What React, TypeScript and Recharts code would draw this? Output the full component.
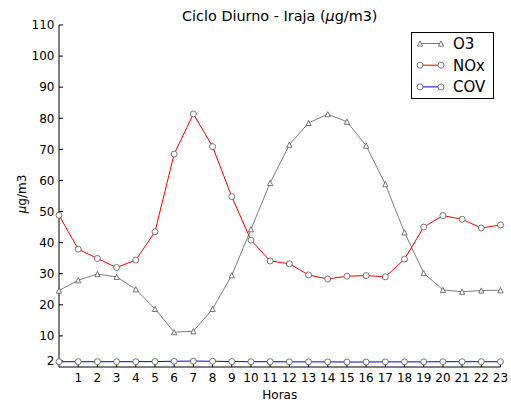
import React from 'react';
import { LineChart, Line, XAxis, YAxis } from 'recharts';

const hours = [0, 1, 2, 3, 4, 5, 6, 7, 8, 9, 10, 11, 12, 13, 14, 15, 16, 17, 18, 19, 20, 21, 22, 23];
const o3 = [24.6, 27.9, 29.9, 29.0, 25.0, 18.7, 11.2, 11.5, 18.7, 29.5, 44.3, 59.2, 71.5, 78.5, 81.3, 78.9, 71.2, 58.8, 43.3, 30.2, 24.8, 24.2, 24.6, 24.7];
const nox = [48.8, 37.9, 34.9, 32.0, 34.4, 43.5, 68.5, 81.4, 70.9, 54.8, 40.8, 34.1, 33.2, 29.6, 28.3, 29.2, 29.4, 29.0, 34.7, 45.0, 48.7, 47.5, 44.7, 45.7];
const cov = [1.7, 1.7, 1.7, 1.7, 1.7, 1.75, 1.85, 1.9, 1.85, 1.75, 1.7, 1.7, 1.65, 1.65, 1.65, 1.6, 1.6, 1.65, 1.65, 1.65, 1.7, 1.7, 1.7, 1.7];
const xTicks = [1, 2, 3, 4, 5, 6, 7, 8, 9, 10, 11, 12, 13, 14, 15, 16, 17, 18, 19, 20, 21, 22, 23];
const yTicks = [2, 10, 20, 30, 40, 50, 60, 70, 80, 90, 100, 110];
const seriesNames = ['O3', 'NOx', 'COV'];
const seriesColors = ['#808080', '#ff0000', '#0000ff'];

const data = hours.map((h, i) => ({ h, O3: o3[i], NOx: nox[i], COV: cov[i] }));

const FONT = 'DejaVu Sans, sans-serif';
const EDGE = '#555555';

const Tri = (props: any) => {
  const { cx, cy, index } = props;
  if (cx == null || cy == null) return <g key={`t${index}`} />;
  const s = 2.6;
  return (
    <polygon
      key={`t${index}`}
      points={`${cx},${cy - s} ${cx - s},${cy + s} ${cx + s},${cy + s}`}
      fill="#ffffff"
      stroke={EDGE}
      strokeWidth={0.8}
    />
  );
};

const Circ = (props: any) => {
  const { cx, cy, index } = props;
  if (cx == null || cy == null) return <g key={`c${index}`} />;
  return <circle key={`c${index}`} cx={cx} cy={cy} r={3} fill="#ffffff" stroke={EDGE} strokeWidth={0.8} />;
};

const hiddenTick = () => <g />;

export default function App() {
  const tickStyle = { fill: '#000', fontSize: 12, fontFamily: FONT };
  return (
    <div style={{ position: 'absolute', left: 0, top: 0, width: 511, height: 406, background: '#fff' }}>
      <LineChart
        width={511}
        height={406}
        data={data}
        margin={{ top: 25, right: 10.5, left: 0, bottom: 0 }}
      >
        <XAxis
          xAxisId="top"
          orientation="top"
          dataKey="h"
          type="number"
          domain={[0, 23]}
          ticks={xTicks}
          height={0}
          tickSize={-4}
          tick={hiddenTick}
          stroke="#000"
          tickLine={{ stroke: '#000' }}
          axisLine={{ stroke: '#000' }}
          interval={0}
        />
        <XAxis
          dataKey="h"
          type="number"
          domain={[0, 23]}
          ticks={xTicks}
          height={39}
          tickSize={-4}
          tickMargin={10}
          tick={tickStyle}
          stroke="#000"
          tickLine={{ stroke: '#000' }}
          axisLine={{ stroke: '#000' }}
          interval={0}
          label={{ value: 'Horas', position: 'insideBottom', offset: 7, fill: '#000', fontSize: 12, fontFamily: FONT }}
        />
        <YAxis
          type="number"
          domain={[0, 110]}
          ticks={yTicks}
          width={59}
          tickSize={-4}
          tickMargin={8.5}
          tick={tickStyle}
          stroke="#000"
          tickLine={{ stroke: '#000' }}
          axisLine={{ stroke: '#000' }}
          interval={0}
        />
        <YAxis
          yAxisId="right"
          orientation="right"
          type="number"
          domain={[0, 110]}
          ticks={yTicks}
          width={0}
          tickSize={-4}
          tick={hiddenTick}
          stroke="#000"
          tickLine={{ stroke: '#000' }}
          axisLine={{ stroke: '#000' }}
          interval={0}
        />
        <Line dataKey="O3" stroke={seriesColors[0]} strokeWidth={1} dot={Tri} activeDot={false} isAnimationActive={false} />
        <Line dataKey="NOx" stroke={seriesColors[1]} strokeWidth={1} dot={Circ} activeDot={false} isAnimationActive={false} />
        <Line dataKey="COV" stroke={seriesColors[2]} strokeWidth={1} dot={Circ} activeDot={false} isAnimationActive={false} />
      </LineChart>
      <svg width={511} height={406} style={{ position: 'absolute', left: 0, top: 0, pointerEvents: 'none' }}>
        <text x={279.75} y={20.7} textAnchor="middle" fontFamily={FONT} fontSize={14.4} fill="#000">
          Ciclo Diurno - Iraja (<tspan fontStyle="italic">μ</tspan>g/m3)
        </text>
        <text
          x={0}
          y={0}
          transform="translate(26,194) rotate(-90)"
          textAnchor="middle"
          fontFamily={FONT}
          fontSize={12}
          fill="#000"
        >
          <tspan fontStyle="italic">μ</tspan>g/m3
        </text>
        <rect x={411.5} y={32.5} width={82} height={66} fill="#fff" stroke="#000" strokeWidth={1} />
        {seriesNames.map((name, i) => {
          const y = 43.5 + i * 21.7;
          return (
            <g key={name}>
              <line x1={420} y1={y} x2={441} y2={y} stroke={seriesColors[i]} strokeWidth={1} />
              {i === 0 ? (
                <>
                  <Tri cx={420} cy={y} index={100} />
                  <Tri cx={441} cy={y} index={101} />
                </>
              ) : (
                <>
                  <Circ cx={420} cy={y} index={100} />
                  <Circ cx={441} cy={y} index={101} />
                </>
              )}
              <text x={453} y={y + 5.5} fontFamily={FONT} fontSize={15} fill="#000">
                {name}
              </text>
            </g>
          );
        })}
      </svg>
    </div>
  );
}
